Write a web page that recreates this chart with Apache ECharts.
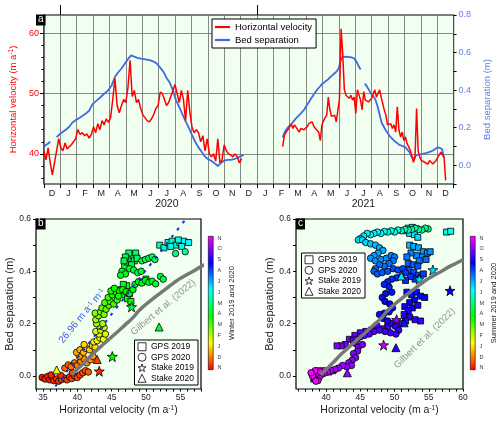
<!DOCTYPE html>
<html><head><meta charset="utf-8">
<script src="https://cdn.jsdelivr.net/npm/echarts@6/dist/echarts.min.js"></script>
<style>html,body{margin:0;padding:0;background:#fff}#c{width:500px;height:422px}</style>
</head><body><div id="c"></div><script>
const monthLetters = ['D','J','F','M','A','M','J','J','A','S','O','N','D','J','F','M','A','M','J','J','A','S','O','N','D'];
const yearLabels = ['2020','2021'];
const colorbarLetters = ['N','D','J','F','M','A','M','J','J','A','S','O','N'];
const velTicks = [40,50,60];
const bedTicks = [0,0.2,0.4,0.6];
const bxTicks = [35,40,45,50,55];
const cxTicks = [40,45,50,55,60];

const velStart2020 = '2019-12-01', velStep2020 = 4;
const vel2020 = [40.5,39.0,41.0,38.5,36.5,38.5,40.5,42.5,41.0,40.5,
 41.8,40.8,41.2,41.5,42.0,42.5,44.0,43.2,43.5,43.0,
 43.3,42.6,43.2,44.5,43.5,45.0,44.0,45.5,44.8,45.8,
 45.2,46.0,49.0,52.5,48.0,46.8,48.0,49.0,48.5,51.0,
 55.5,49.5,50.5,48.5,49.0,47.5,46.5,46.0,45.5,45.3,
 45.8,46.5,47.5,48.0,50.2,50.0,49.0,48.0,48.5,49.5,
 50.5,51.5,50.0,48.5,50.5,49.0,45.5,50.5,47.0,44.5,
 43.5,44.0,43.5,42.0,43.0,40.5,42.5,40.0,39.5,40.0,
 38.8,42.5,38.5,39.0,41.5,40.5,40.0,39.8,39.5,40.0,
 39.5,38.5,39.2];
const velStart2021 = '2021-02-17', velStep2021 = 3;
const vel2021 = [41.2,43.1,43.6,44.0,44.5,44.9,44.2,44.8,44.6,44.0,
 43.6,44.2,44.5,44.0,43.8,44.5,45.0,44.8,45.3,44.6,
 44.2,43.9,43.6,42.2,44.8,45.5,46.0,46.4,49.4,47.3,
 46.2,45.9,46.4,45.3,45.6,49.0,60.7,56.6,50.6,49.7,
 49.4,49.2,49.7,48.9,49.4,46.7,50.6,50.8,48.9,47.3,
 50.3,48.9,48.9,48.6,48.9,49.2,50.0,50.6,49.4,50.0,
 50.6,49.4,48.3,47.2,46.4,44.8,44.5,45.0,44.2,44.8,
 43.6,47.8,43.9,42.8,43.6,42.2,42.8,41.7,41.2,40.6,
 39.7,38.6,39.4,47.5,40.5,39.4,38.9,39.2,38.6,38.9,
 38.3,38.9,38.6,38.3,38.6,38.9,39.4,39.7,40.3,40.0,
 39.4,35.6];
const bedStart2020 = '2019-12-01', bedStep2020 = 6;
const bed2020 = [0.100,0.112,0.125,null,0.150,0.165,0.178,0.190,0.205,0.228,
 0.240,0.250,0.262,0.275,0.290,0.325,0.340,0.355,0.370,0.385,
 0.400,0.425,0.470,0.495,0.515,0.540,0.565,0.585,0.578,0.572,
 0.568,0.565,0.562,0.558,0.552,0.540,0.520,0.498,0.465,0.440,
 0.400,0.345,0.310,0.272,0.235,0.200,0.162,0.125,0.095,0.070,
 0.045,0.032,0.022,0.010,-0.004,0.012,0.025,0.028,0.028,0.032,
 0.040,0.048,0.055];
const bedStart2021 = '2021-02-17', bedStep2021 = 4;
const bed2021 = [0.148,0.180,0.198,0.212,0.222,0.236,0.250,0.262,0.272,0.285,
 0.298,0.318,0.335,0.355,0.372,0.390,0.405,0.418,0.432,0.440,
 0.450,0.458,0.470,0.480,0.490,0.500,0.520,0.565,0.580,0.576,
 0.578,0.575,0.574,0.568,0.553,0.530,0.510,null,0.435,0.420,
 0.400,0.380,0.368,0.350,0.315,0.270,0.225,0.205,0.185,0.168,
 0.152,0.140,0.128,0.120,0.110,0.105,0.100,0.095,0.082,0.068,
 0.041,0.035,0.052,0.056,0.058,0.060,0.063,0.066,0.070,0.074,
 0.080,0.088,0.095,0.092,0.086,0.040];

const gilbertCurve = [[39.2,0.005],[40,0.025],[41,0.05],[42,0.078],[43,0.102],[44,0.126],[45,0.149],[46,0.172],[47,0.196],[48,0.22],[49,0.25],[50,0.274],[51,0.295],[52,0.315],[53,0.335],[54,0.355],[55,0.373],[56,0.388],[57,0.402],[58,0.418],[59,0.431],[60,0.444]];
const fitLine = [[36.8,-0.04],[55.8,0.6]];

const b_gps2020 = [[34.9,-0.006,0.2],[35.3,-0.012,0.25],[35.7,-0.002,0.3],[36.0,-0.015,0.3],[36.3,-0.005,0.35],[36.6,-0.018,0.4],[37.0,-0.012,0.4],[37.3,-0.02,0.45],[37.7,-0.014,0.5],[38.1,-0.008,0.5],[38.5,-0.015,0.55],[38.9,-0.004,0.6],[39.2,-0.01,0.6],[39.6,0.0,0.65],[40.0,-0.006,0.7],[40.4,0.004,0.7],[40.8,0.012,0.75],[41.2,0.02,0.8],[41.6,0.015,0.85],[36.2,0.004,0.3],[37.6,0.002,0.45],[39.3,0.012,0.7],
[38.2,0.03,0.95],[38.7,0.042,1.0],[39.1,0.035,1.05],[39.6,0.05,1.1],[40.0,0.04,1.15],[40.5,0.055,1.2],[41.0,0.065,1.3],[41.4,0.05,1.35],[41.9,0.062,1.4],[42.3,0.075,1.5],[40.3,0.075,1.5],[39.9,0.09,1.6],[40.4,0.1,1.7],[40.9,0.09,1.75],[41.3,0.105,1.85],[41.8,0.1,1.9],[42.2,0.115,2.0],[42.6,0.11,2.1],[41.0,0.12,2.0],
[42.4,0.13,2.3],[42.9,0.135,2.4],[43.3,0.145,2.5],[43.8,0.14,2.6],[43.2,0.16,2.7],[42.7,0.17,2.8],[43.4,0.175,2.9],[43.9,0.185,3.0],[43.3,0.19,3.1],[43.7,0.2,3.2],[42.8,0.2,3.2],[44.1,0.16,2.7],
[42.7,0.215,3.4],[43.1,0.23,3.5],[42.6,0.24,3.6],[43.4,0.245,3.7],[43.9,0.235,3.7],[43.6,0.26,3.8],[44.2,0.255,3.9],[44.6,0.27,4.0],[44.0,0.28,4.1],[44.8,0.285,4.2],[45.3,0.275,4.2],[44.5,0.3,4.3],[45.8,0.29,4.4],
[45.1,0.31,4.5],[45.6,0.32,4.55],[46.1,0.325,4.6],[46.6,0.33,4.7],[47.1,0.322,4.75],[47.6,0.315,4.8],[48.1,0.33,4.85],[44.9,0.325,4.6],[45.4,0.335,4.7],[46.0,0.305,4.65],
[48.4,0.35,4.95],[48.9,0.36,5.0],[49.4,0.355,5.05],[49.9,0.365,5.1],[50.4,0.358,5.15],[50.9,0.362,5.2],[51.4,0.352,5.25],[52.1,0.38,5.3],[52.5,0.37,5.35],
[46.5,0.4,5.1],[47.0,0.39,5.15],[47.6,0.41,5.2],[48.2,0.405,5.25],[48.8,0.395,5.3],[49.3,0.4,5.35],[46.3,0.385,5.1],
[49.4,0.44,5.5],[49.9,0.445,5.55],[50.4,0.45,5.6],[50.9,0.455,5.65],[51.3,0.445,5.7],
[54.3,0.468,6.0],[55.7,0.475,6.1]];
const b_gps2019 = [[46.4,0.33,4.9],[46.9,0.31,4.95],[47.3,0.295,5.0],[47.6,0.315,5.05],[47.2,0.345,5.1],[46.7,0.35,5.1],[47.8,0.285,5.0],
[46.9,0.42,5.5],[47.3,0.435,5.55],[47.7,0.45,5.6],[48.1,0.46,5.65],[48.5,0.47,5.7],[47.5,0.47,5.75],[47.0,0.455,5.6],[48.3,0.44,5.55],[47.9,0.425,5.5],[48.7,0.45,5.65],[46.8,0.44,5.5],
[49.4,0.36,5.2],[50.0,0.37,5.25],
[52.0,0.5,6.5],[52.6,0.49,6.6],[53.2,0.51,6.7],[53.8,0.515,6.8],[54.3,0.5,6.9],[54.9,0.51,7.0],[55.5,0.515,7.1],[56.2,0.51,7.2],[53.6,0.495,6.85],[55.2,0.495,7.05],[54.7,0.52,6.95]];
const b_stake2019 = [[47.9,0.264,5.2],[45.1,0.074,4.8],[43.2,0.018,0.4]];
const b_stake2020 = [[51.9,0.187,5.3],[42.9,0.063,0.6],[37.0,0.023,2.6]];

const c_gps2020 = [[54.9,0.562,6.0],[54.5,0.565,6.1],[54.0,0.558,6.2],[53.5,0.56,6.3],[53.0,0.565,6.35],[52.5,0.56,6.4],[52.0,0.558,6.5],[51.5,0.56,6.6],[51.0,0.555,6.7],[50.5,0.558,6.8],[50.0,0.55,6.9],[49.5,0.555,7.0],[49.0,0.55,7.05],[48.5,0.552,7.1],[48.0,0.545,7.15],[47.5,0.55,7.2],[47.0,0.545,7.25],[46.5,0.54,7.3],[46.0,0.545,7.35],[45.5,0.535,7.4],[45.0,0.525,7.45],[44.7,0.52,7.5],[45.3,0.52,7.55],
[45.8,0.51,7.6],[46.5,0.505,7.7],[47.2,0.5,7.8],[47.8,0.49,7.9],[48.3,0.48,8.0],[47.6,0.47,8.05],[47.0,0.46,8.1],[46.5,0.45,8.15],[47.2,0.44,8.2],[48.0,0.445,8.25],[48.8,0.45,8.3],[49.5,0.46,8.35],[50.0,0.455,8.4],[49.8,0.44,8.45],[49.2,0.43,8.5],[48.5,0.42,8.55],[47.8,0.425,8.6],[47.2,0.41,8.65],[47.0,0.4,8.7],[47.5,0.39,8.75],[48.2,0.395,8.8],[49.0,0.4,8.85],[49.8,0.41,8.9],[50.5,0.405,8.95],[51.2,0.41,9.0],[51.6,0.395,9.05],[51.0,0.38,9.1],[50.3,0.375,9.15],[49.6,0.37,9.2],[49.0,0.36,9.25],[48.5,0.35,9.3],[49.2,0.34,9.35],[49.6,0.32,9.4],[48.7,0.315,9.45],[48.2,0.3,9.5],[48.6,0.285,9.55],[49.3,0.275,9.6],[49.7,0.26,9.65],[49.2,0.245,9.7],[48.5,0.24,9.75],[47.8,0.235,9.8],[48.3,0.22,9.85],[49.0,0.21,9.9],[49.6,0.2,9.95],[50.1,0.19,10.0],[50.6,0.175,10.05],[50.2,0.16,10.1],[49.4,0.165,10.15],[48.6,0.17,10.2],[47.8,0.175,10.3],[47.0,0.17,10.35],[46.3,0.16,10.4],[45.6,0.155,10.45],[45.0,0.15,10.5],[44.5,0.14,10.55],[44.2,0.125,10.6],[44.7,0.11,10.65],[45.3,0.12,10.7],[44.6,0.095,10.75],[44.0,0.085,10.8],[44.3,0.07,10.85],[43.8,0.06,10.9],[43.3,0.05,10.95],[43.7,0.04,11.0],[43.0,0.035,11.05],[42.4,0.04,11.1],[41.8,0.03,11.15],[41.3,0.025,11.2],[40.7,0.02,11.3],[40.2,0.015,11.4],[39.7,0.01,11.5],[39.3,0.005,11.55],[39.0,-0.005,11.6],[38.6,0.01,11.65],[38.3,-0.01,11.7],[38.0,0.0,11.75],[38.4,0.02,11.8],[38.8,-0.018,11.85],[39.2,0.015,11.9],[37.8,0.012,11.95],[38.5,-0.02,11.98]];
const c_gps2019 = [[57.6,0.55,7.0],[58.2,0.553,7.1],[52.0,0.565,7.2],[52.6,0.568,7.25],[53.2,0.562,7.3],[51.6,0.555,7.3],[52.2,0.545,7.35],[52.9,0.54,7.4],[53.4,0.53,7.5],
[52.2,0.5,7.8],[52.8,0.495,7.9],[53.5,0.49,8.0],[54.2,0.475,8.1],[54.8,0.47,8.2],[55.2,0.475,8.25],[54.0,0.455,8.3],[53.2,0.46,8.35],[52.4,0.47,8.4],[51.8,0.455,8.45],[53.6,0.44,8.5],[54.6,0.445,8.55],
[52.0,0.43,8.7],[52.7,0.425,8.75],[53.4,0.42,8.8],[52.1,0.405,8.85],[52.8,0.395,8.9],[53.5,0.385,9.0],[54.2,0.39,9.05],[53.0,0.37,9.1],[52.3,0.38,9.15],[51.6,0.365,9.2],
[51.8,0.32,9.4],[52.5,0.31,9.45],[53.2,0.32,9.5],[53.8,0.305,9.55],[54.4,0.3,9.6],[52.9,0.29,9.65],[52.2,0.28,9.7],[51.5,0.265,9.75],[52.6,0.26,9.8],[53.4,0.27,9.85],[52.0,0.25,9.9],[51.4,0.235,9.95],[52.2,0.225,10.0],[53.0,0.215,10.05],[53.8,0.21,10.1],[51.6,0.21,10.1],[50.8,0.2,10.15],
[49.0,0.19,10.2],[48.2,0.18,10.25],[47.4,0.19,10.3],[46.6,0.175,10.35],[45.8,0.17,10.4],[45.0,0.165,10.45],[44.2,0.155,10.5],[43.4,0.14,10.6],[42.8,0.12,10.7],[42.2,0.115,10.75],[41.6,0.115,10.8],[44.0,0.135,10.55],
[41.0,0.02,11.3],[40.4,0.015,11.4],[39.8,0.02,11.5],[39.2,0.01,11.6],[38.6,0.0,11.7],[38.2,-0.012,11.8],[38.9,0.02,11.9]];
const c_stake2019 = [[55.6,0.405,7.6],[58.1,0.326,9.6],[50.3,0.215,11.0],[48.4,0.118,11.5],[53.6,0.37,7.5]];
const c_stake2020 = [[51.0,0.382,7.4],[51.4,0.203,9.4],[50.2,0.108,9.9],[43.1,0.012,11.0]];

const FONT = 'Liberation Sans, Arial, Helvetica, sans-serif';
const STAR = 'path://M0,-10L2.35,-3.24L9.51,-3.09L3.8,1.24L5.88,8.09L0,4L-5.88,8.09L-3.8,1.24L-9.51,-3.09L-2.35,-3.24Z';
const RAINBOW = ['#ff0000','#ffff00','#00ff00','#00ffff','#0000ff','#ff00ff'];
const BG = '#f0fff0';
const BLUE_TXT = '#5b7fe6';

function range(a,b,s){const r=[];for(let v=a;v<=b+1e-9;v+=s)r.push(+v.toFixed(4));return r;}
function monthIndex(d){
  const y=d.getUTCFullYear(), m=d.getUTCMonth();
  const dim=new Date(Date.UTC(y,m+1,0)).getUTCDate();
  return (y-2019)*12+(m-11)+(d.getUTCDate()-1)/dim;
}
function series(start, step, vals){
  const t0=new Date(start+'T00:00:00Z').getTime();
  return vals.map((v,i)=>[monthIndex(new Date(t0+i*step*86400000)), v==null?'-':v]);
}

const chart = echarts.init(document.getElementById('c'), null, {renderer:'canvas'});
const sup = (c)=>({fontSize:6.5, verticalAlign:'top', color:c, fontFamily:FONT});

function panelLabel(t,left,top){
  return {text:t,left:left,top:top,padding:[0,2,1,2],backgroundColor:'#000',
    textStyle:{color:'#fff',fontSize:10,fontWeight:'normal',lineHeight:9,fontFamily:FONT}};
}
function scatterSet(data, symbol, size, xi, yi){
  return {type:'scatter', xAxisIndex:xi, yAxisIndex:yi, data:data, symbol:symbol, symbolSize:size,
    itemStyle:{borderColor:'#000', borderWidth:0.8, opacity:1}, z:3, silent:true};
}
function textSeries(xi, yi, pt, txt, rot, color, fs, rich){
  return {type:'scatter', xAxisIndex:xi, yAxisIndex:yi, data:[pt], symbolSize:1,
    itemStyle:{color:'rgba(0,0,0,0)'}, silent:true, z:6,
    label:{show:true, position:'inside', formatter:txt, rotate:rot, color:color, fontSize:fs, fontFamily:FONT, rich:rich||{}}};
}
function cbarAxes(gi, name){
  return [
    {gridIndex:gi, type:'value', min:0, max:1, show:false},
    {gridIndex:gi, type:'value', position:'right', min:-0.2, max:12.2,
     axisLine:{show:false}, axisTick:{show:false}, splitLine:{show:false},
     axisLabel:{customValues:range(0,12,1), formatter:v=>colorbarLetters[Math.round(v)], fontSize:5.5, margin:4, color:'#333', fontFamily:FONT},
     name:name, nameLocation:'middle', nameGap:14, nameTextStyle:{fontSize:7.5, color:'#222', fontFamily:FONT}}
  ];
}
function cbarBar(xi, yi){
  return {type:'bar', xAxisIndex:xi, yAxisIndex:yi, data:[1], barWidth:'100%', silent:true,
    itemStyle:{borderColor:'#000', borderWidth:0.6,
      color:{type:'linear',x:0,y:1,x2:0,y2:0,colorStops:RAINBOW.map((c,i)=>({offset:i/5,color:c}))}}};
}
const symLegend = (left, top)=>({left:left, top:top, orient:'vertical', selectedMode:false, z:20,
  data:[{name:'GPS 2019',icon:'rect'},{name:'GPS 2020',icon:'circle'},{name:'Stake 2019',icon:STAR},{name:'Stake 2020',icon:'triangle'}],
  itemWidth:8, itemHeight:8, itemGap:1, padding:[2,4,2,3], backgroundColor:'#fff', borderColor:'#000', borderWidth:1,
  itemStyle:{color:'rgba(0,0,0,0)', borderColor:'#000', borderWidth:1},
  textStyle:{fontSize:8.5, color:'#000', fontFamily:FONT, lineHeight:9.5}});

const velName = 'Horizontal velocity (m a{s|-1})';

const option = {
  animation:false,
  textStyle:{fontFamily:FONT},
  title:[panelLabel('a',36,15), panelLabel('b',36,219), panelLabel('c',296,219)],
  grid:[
    {left:36, top:15, width:425, height:169, show:true, backgroundColor:BG, borderColor:'#000', borderWidth:1.2},
    {left:36, top:219, width:165, height:170, show:true, backgroundColor:BG, borderColor:'#000', borderWidth:1.2},
    {left:296, top:219, width:167, height:170, show:true, backgroundColor:BG, borderColor:'#000', borderWidth:1.2},
    {left:208, top:236, width:5.5, height:134},
    {left:470, top:236, width:5.5, height:134}
  ],
  legend:[
    {left:212, top:19, orient:'vertical', selectedMode:false, z:20,
     data:[{name:'Horizontal velocity',icon:'rect'},{name:'Bed separation',icon:'rect'}],
     itemWidth:15, itemHeight:2.2, itemGap:3, padding:[3,4,3,3], backgroundColor:'#fff', borderColor:'#000', borderWidth:1,
     textStyle:{fontSize:9.5, color:'#000', fontFamily:FONT}},
    symLegend(134.5, 340), symLegend(301.5, 253)
  ],
  visualMap:[
    {type:'continuous', show:false, min:0, max:12, dimension:2, seriesIndex:[4,5,6,7], inRange:{color:RAINBOW}},
    {type:'continuous', show:false, min:0, max:12, dimension:2, seriesIndex:[8,9,10,11], inRange:{color:RAINBOW}}
  ],
  xAxis:[
    {gridIndex:0, type:'value', min:0, max:25, position:'bottom',
     axisLine:{show:false, onZero:false},
     axisTick:{customValues:range(0,25,1), length:4, lineStyle:{color:'#000', width:1}},
     axisLabel:{customValues:range(0.5,24.5,1), formatter:v=>monthLetters[Math.floor(v)], margin:5, fontSize:9, color:'#222'},
     splitLine:{show:true, lineStyle:{color:'#6a6a6a', width:0.8}}},
    {gridIndex:0, type:'value', min:0, max:25, position:'bottom',
     axisLine:{show:false, onZero:false}, axisTick:{show:false}, splitLine:{show:false},
     axisLabel:{customValues:[7.5,19.5], formatter:v=>yearLabels[v<12?0:1], margin:15, fontSize:10.5, color:'#222'}},
    {gridIndex:0, type:'value', min:0, max:25, position:'top',
     axisLine:{show:false, onZero:false}, axisLabel:{show:false}, splitLine:{show:false},
     axisTick:{customValues:[1,13], length:10, lineStyle:{color:'#000', width:1}}},
    {gridIndex:1, type:'value', min:34, max:58, position:'bottom',
     axisLine:{show:false, onZero:false},
     axisTick:{customValues:range(34,58,1), length:2.5, lineStyle:{color:'#000'}},
     axisLabel:{customValues:bxTicks, fontSize:8.5, margin:4, color:'#222'},
     splitLine:{show:false},
     name:velName, nameLocation:'middle', nameGap:16,
     nameTextStyle:{fontSize:10.5, color:'#222', rich:{s:sup('#222')}}},
    {gridIndex:2, type:'value', min:35.6, max:60, position:'bottom',
     axisLine:{show:false, onZero:false},
     axisTick:{customValues:range(36,60,1), length:2.5, lineStyle:{color:'#000'}},
     axisLabel:{customValues:cxTicks, fontSize:8.5, margin:4, color:'#222'},
     splitLine:{show:false},
     name:velName, nameLocation:'middle', nameGap:16,
     nameTextStyle:{fontSize:10.5, color:'#222', rich:{s:sup('#222')}}},
    {gridIndex:3, type:'category', data:['c'], show:false, axisLine:{onZero:false}},
    {gridIndex:4, type:'category', data:['c'], show:false, axisLine:{onZero:false}}
  ],
  yAxis:[
    {gridIndex:0, type:'value', min:35, max:63, position:'left',
     axisLine:{show:false, onZero:false},
     axisTick:{customValues:velTicks, length:4, lineStyle:{color:'#000'}},
     axisLabel:{customValues:velTicks, fontSize:9, margin:5, color:'#ff0000'},
     splitLine:{show:true, lineStyle:{color:'#6a6a6a', width:0.8}},
     name:velName, nameLocation:'middle', nameGap:20,
     nameTextStyle:{fontSize:9.5, color:'#ff0000', rich:{s:sup('#ff0000')}}},
    {gridIndex:0, type:'value', min:-0.1, max:0.8, interval:0.1, position:'right',
     axisLine:{show:false, onZero:false},
     axisTick:{length:3, lineStyle:{color:'#000'}},
     axisLabel:{formatter:v=>(Math.round(v*10)%2===0 && v>-0.05)?v.toFixed(1):'', fontSize:9, margin:5, color:BLUE_TXT},
     splitLine:{show:false},
     name:'Bed separation (m)', nameLocation:'middle', nameGap:24,
     nameTextStyle:{fontSize:9.5, color:BLUE_TXT}},
    {gridIndex:0, type:'value', min:35, max:63, position:'left',
     axisLine:{show:false, onZero:false}, axisLabel:{show:false}, splitLine:{show:false},
     axisTick:{customValues:range(36,62,2), length:2.5, lineStyle:{color:'#000'}}},
    {gridIndex:1, type:'value', min:-0.05, max:0.6, position:'left',
     axisLine:{show:false, onZero:false},
     axisTick:{customValues:[0,0.1,0.2,0.3,0.4,0.5,0.6], length:3, lineStyle:{color:'#000'}},
     axisLabel:{customValues:bedTicks, formatter:v=>v.toFixed(1), fontSize:8.5, margin:5, color:'#222'},
     splitLine:{show:false},
     name:'Bed separation (m)', nameLocation:'middle', nameGap:20,
     nameTextStyle:{fontSize:11, color:'#222'}},
    {gridIndex:2, type:'value', min:-0.05, max:0.6, position:'left',
     axisLine:{show:false, onZero:false},
     axisTick:{customValues:[0,0.1,0.2,0.3,0.4,0.5,0.6], length:3, lineStyle:{color:'#000'}},
     axisLabel:{customValues:bedTicks, formatter:v=>v.toFixed(1), fontSize:8.5, margin:5, color:'#222'},
     splitLine:{show:false},
     name:'Bed separation (m)', nameLocation:'middle', nameGap:20,
     nameTextStyle:{fontSize:11, color:'#222'}},
    ...cbarAxes(3,'Winter 2019 and 2020'),
    ...cbarAxes(4,'Summer 2019 and 2020')
  ],
  series:[
    {name:'Bed separation', type:'line', xAxisIndex:0, yAxisIndex:1, data:series(bedStart2020,bedStep2020,bed2020), showSymbol:false, symbol:'none', lineStyle:{color:'#4169e1', width:1.8}, itemStyle:{color:'#4169e1'}, silent:true, z:2},
    {name:'Bed separation', type:'line', xAxisIndex:0, yAxisIndex:1, data:series(bedStart2021,bedStep2021,bed2021), showSymbol:false, symbol:'none', lineStyle:{color:'#4169e1', width:1.8}, itemStyle:{color:'#4169e1'}, silent:true, z:2},
    {name:'Horizontal velocity', type:'line', xAxisIndex:0, yAxisIndex:0, data:series(velStart2020,velStep2020,vel2020), showSymbol:false, symbol:'none', lineStyle:{color:'#ff0000', width:1.5}, itemStyle:{color:'#ff0000'}, silent:true, z:3},
    {name:'Horizontal velocity', type:'line', xAxisIndex:0, yAxisIndex:0, data:series(velStart2021,velStep2021,vel2021), showSymbol:false, symbol:'none', lineStyle:{color:'#ff0000', width:1.5}, itemStyle:{color:'#ff0000'}, silent:true, z:3},
    scatterSet(b_gps2019,'rect',6,3,3), scatterSet(b_gps2020,'circle',6.5,3,3), scatterSet(b_stake2019,STAR,10,3,3), scatterSet(b_stake2020,'triangle',8,3,3),
    scatterSet(c_gps2019,'rect',6,4,4), scatterSet(c_gps2020,'circle',6.5,4,4), scatterSet(c_stake2019,STAR,10,4,4), scatterSet(c_stake2020,'triangle',8,4,4),
    {type:'line', xAxisIndex:3, yAxisIndex:3, data:gilbertCurve, smooth:true, symbol:'none', lineStyle:{color:'#777', width:3.5}, silent:true, z:4},
    {type:'line', xAxisIndex:3, yAxisIndex:3, data:fitLine, symbol:'none', lineStyle:{color:'#1530e0', width:2, type:[3,6]}, silent:true, z:4},
    {type:'line', xAxisIndex:4, yAxisIndex:4, data:gilbertCurve, smooth:true, symbol:'none', lineStyle:{color:'#777', width:3.5}, silent:true, z:4},
    textSeries(3,3,[40.7,0.229],'26.96 m a{s|-1} m{s|-1}',51,'#1530e0',10,{s:sup('#1530e0')}),
    textSeries(3,3,[52.5,0.262],'Gilbert et al. (2022)',40,'#777',9.5),
    textSeries(4,4,[54.4,0.144],'Gilbert et al. (2022)',44.5,'#777',9.5),
    {name:'GPS 2019', type:'scatter', xAxisIndex:3, yAxisIndex:3, data:[], symbol:'rect', itemStyle:{color:'rgba(0,0,0,0)', borderColor:'#000', borderWidth:1}},
    {name:'GPS 2020', type:'scatter', xAxisIndex:3, yAxisIndex:3, data:[], symbol:'circle', itemStyle:{color:'rgba(0,0,0,0)', borderColor:'#000', borderWidth:1}},
    {name:'Stake 2019', type:'scatter', xAxisIndex:3, yAxisIndex:3, data:[], symbol:STAR, itemStyle:{color:'rgba(0,0,0,0)', borderColor:'#000', borderWidth:1}},
    {name:'Stake 2020', type:'scatter', xAxisIndex:3, yAxisIndex:3, data:[], symbol:'triangle', itemStyle:{color:'rgba(0,0,0,0)', borderColor:'#000', borderWidth:1}},
    cbarBar(5,5), cbarBar(6,7)
  ]
};
chart.setOption(option);
</script></body></html>
